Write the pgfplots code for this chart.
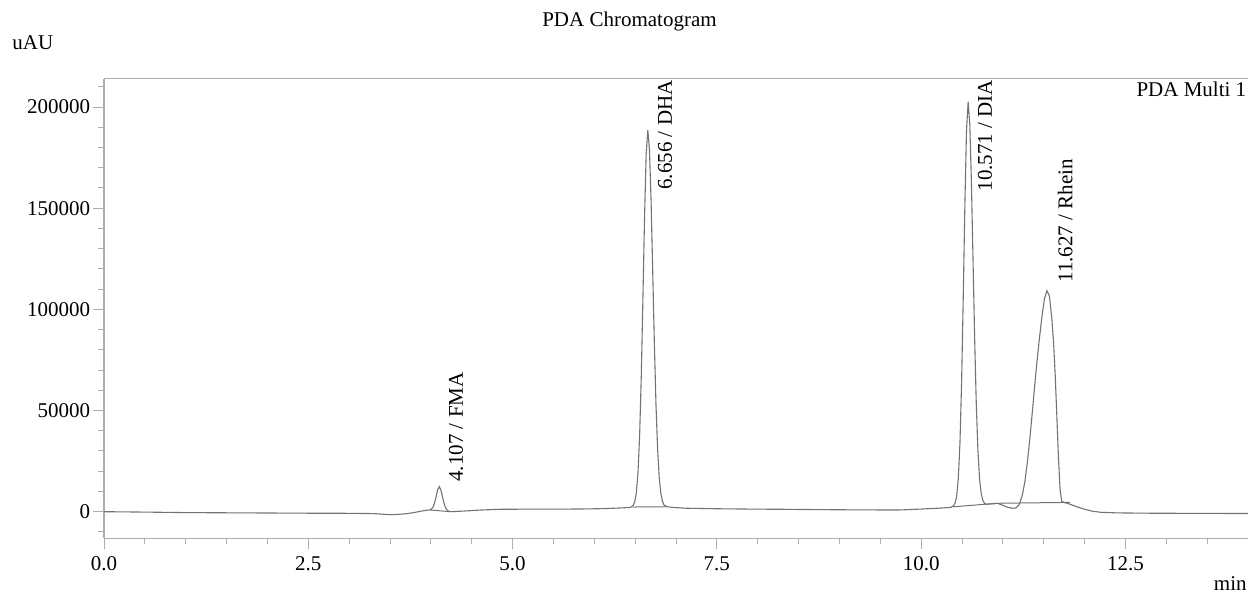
\documentclass[border=0pt]{standalone}
\usepackage{fontspec}
\setmainfont{Liberation Serif}
\usepackage{pgfplots}
\pgfplotsset{compat=1.18}
\definecolor{trace}{gray}{0.45}
\definecolor{axisgray}{gray}{0.68}
\begin{document}
\fontsize{10.5pt}{12.5pt}\selectfont
\begin{tikzpicture}
\path[use as bounding box] (0,0) rectangle (624pt,296.5pt);
\begin{axis}[
  at={(52pt,27.35pt)}, anchor=south west,
  scale only axis, width=572pt, height=229.8pt,
  xmin=0, xmax=14.0, ymin=-13150, ymax=214000,
  axis x line=box, axis y line=left,
  x axis line style={-, draw=axisgray, line width=0.6pt},
  y axis line style={-, draw=axisgray, line width=0.6pt},
  tick align=outside,
  major tick length=5.5pt, minor tick length=3pt,
  tick style={draw=axisgray, line width=0.5pt},
  xtick pos=bottom, ytick pos=left,
  xtick={0,2.5,5,7.5,10,12.5},
  minor xtick={0.5,1,1.5,2,3,3.5,4,4.5,5.5,6,6.5,7,8,8.5,9,9.5,10.5,11,11.5,12,13,13.5,14},
  ytick={0,50000,100000,150000,200000},
  minor ytick={-10000,10000,20000,30000,40000,60000,70000,80000,90000,110000,120000,130000,140000,160000,170000,180000,190000,210000},
  scaled y ticks=false,
  /pgf/number format/assume math mode=true,
  yticklabel style={/pgf/number format/fixed, /pgf/number format/set thousands separator={}, xshift=2.2pt},
  xticklabel style={/pgf/number format/fixed, /pgf/number format/fixed zerofill, /pgf/number format/precision=1},
  clip=false,
]
\addplot[trace, line width=0.55pt] coordinates {
(0,0) (0.5,-200) (1.0,-450) (1.5,-550) (2.0,-650) (2.5,-750) (3.0,-800) (3.3,-950)
(3.45,-1350) (3.52,-1480) (3.6,-1350) (3.7,-1000) (3.8,-400) (3.89,350) (3.96,750)
(3.984,880) (4.004,1160) (4.024,2050) (4.044,4100) (4.064,7430) (4.084,10850) (4.104,12350)
(4.124,10620) (4.144,7110) (4.164,3700) (4.184,1550) (4.204,560) (4.224,180) (4.24,0)
(4.4,300) (4.6,800) (4.85,1200) (5.2,1250) (5.6,1280) (5.83,1330) (6.1,1500) (6.3,1800)
(6.44,2100) (6.455,2440) (6.475,3080) (6.495,4900) (6.515,9500) (6.535,19460) (6.555,37800)
(6.575,66880) (6.595,105090) (6.615,145350) (6.635,176670) (6.655,188600) (6.675,179100)
(6.695,153560) (6.715,118890) (6.735,83280) (6.755,52900) (6.775,30900) (6.795,16740)
(6.815,8910) (6.835,4960) (6.855,3225) (6.895,2400) (7.0,2000) (7.13,1700) (7.5,1450)
(8.0,1250) (8.27,1200) (8.5,1100) (9.0,950) (9.5,850) (9.74,850) (10.0,1300) (10.2,1700)
(10.36,2100) (10.395,2900) (10.415,4210) (10.435,7830) (10.455,16500) (10.475,33970)
(10.495,63790) (10.515,105400) (10.535,151400) (10.555,188400) (10.575,202600)
(10.595,191850) (10.615,162940) (10.635,124230) (10.655,85120) (10.675,52800)
(10.695,30070) (10.715,16280) (10.735,8910) (10.755,5520) (10.775,4180) (10.80,3700)
(10.88,3900) (10.93,4150) (10.98,3500) (11.05,2300) (11.11,1700) (11.16,1850) (11.20,3500)
(11.24,8500) (11.27,15000) (11.30,24500) (11.33,36000) (11.36,49000) (11.40,67000)
(11.44,83000) (11.48,97000) (11.51,105500) (11.54,109200) (11.57,106500) (11.60,95000)
(11.62,84000) (11.64,68000) (11.66,48000) (11.68,27000) (11.70,11000) (11.72,5200)
(11.75,4500) (11.80,4000) (11.90,2500) (12.0,1200) (12.1,200) (12.2,-300) (12.4,-600)
(12.8,-750) (13.5,-850) (14.0,-900)
};
\addplot[trace, line width=0.5pt] coordinates {(3.99,840) (4.24,0)};
\addplot[trace, line width=0.5pt] coordinates {(6.47,2300) (6.89,2450)};
\addplot[trace, line width=0.5pt] coordinates {(10.39,2400) (10.93,4150)};
\addplot[trace, line width=0.5pt] coordinates {(10.93,4150) (11.82,4600)};
\node[rotate=90, anchor=west, inner sep=0pt] at (axis cs:4.308,14680) {4.107 / FMA};
\node[rotate=90, anchor=west, inner sep=0pt] at (axis cs:6.866,159000) {6.656 / DHA};
\node[rotate=90, anchor=west, inner sep=0pt] at (axis cs:10.783,158100) {10.571 / DIA};
\node[rotate=90, anchor=west, inner sep=0pt] at (axis cs:11.762,113000) {11.627 / Rhein};
\end{axis}
\node[anchor=base, inner sep=0pt] at (314.75pt,283pt) {PDA Chromatogram};
\node[anchor=base west, inner sep=0pt] at (6pt,271.5pt) {uAU};
\node[anchor=base east, inner sep=0pt] at (623.3pt,248.2pt) {PDA Multi 1};
\node[anchor=base east, inner sep=0pt] at (623.5pt,1pt) {min};
\end{tikzpicture}
\end{document}
